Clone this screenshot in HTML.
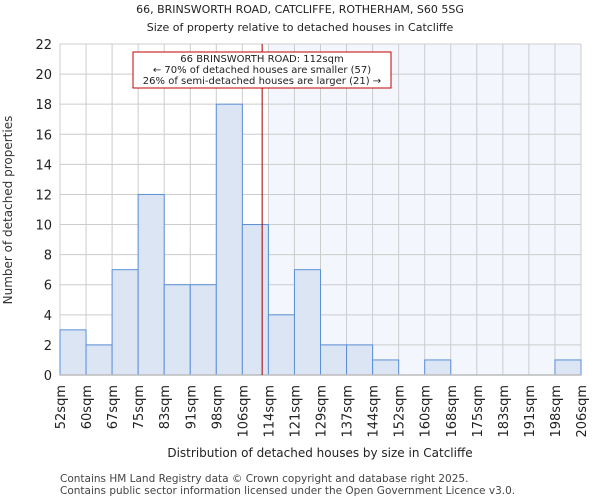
<!DOCTYPE html>
<html><head><meta charset="utf-8"><style>
body{margin:0;background:#fff;font-family:"DejaVu Sans","Liberation Sans",sans-serif}
</style></head><body>
<svg width="600" height="500" xmlns="http://www.w3.org/2000/svg" font-family="DejaVu Sans, Liberation Sans, sans-serif">
<text x="300" y="13" text-anchor="middle" font-size="11" fill="#222">66, BRINSWORTH ROAD, CATCLIFFE, ROTHERHAM, S60 5SG</text>
<text x="300" y="31" text-anchor="middle" font-size="11" fill="#222">Size of property relative to detached houses in Catcliffe</text>
<g id="plot"></g>
<text transform="translate(12,210) rotate(-90)" text-anchor="middle" font-size="12" fill="#333">Number of detached properties</text>
<text x="320" y="457" text-anchor="middle" font-size="12" fill="#222">Distribution of detached houses by size in Catcliffe</text>
<text x="60" y="482" font-size="10.5" fill="#444">Contains HM Land Registry data © Crown copyright and database right 2025.</text>
<text x="60" y="494" font-size="10.5" fill="#444">Contains public sector information licensed under the Open Government Licence v3.0.</text>
</svg>
<script>
const tickLabels=["52sqm","60sqm","67sqm","75sqm","83sqm","91sqm","98sqm","106sqm","114sqm","121sqm","129sqm","137sqm","144sqm","152sqm","160sqm","168sqm","175sqm","183sqm","191sqm","198sqm","206sqm"];
const counts=[3,2,7,12,6,6,18,10,4,7,2,2,1,0,1,0,0,0,0,1];
const yTicks=[0,2,4,6,8,10,12,14,16,18,20,22];
const markerBin=7.76;
const highlightFromBin=8;
const L=60,R=581,T=44,B=375,YMAX=22;
const n=counts.length,bw=(R-L)/n;
const xs=i=>L+i*bw, ys=v=>B-(v/YMAX)*(B-T);
const ns="http://www.w3.org/2000/svg",g=document.getElementById('plot');
function mk(t,a){const e=document.createElementNS(ns,t);for(const k in a)e.setAttribute(k,a[k]);g.appendChild(e);return e;}
let e=mk('rect',{x:xs(highlightFromBin),y:T,width:R-xs(highlightFromBin),height:B-T,fill:'#f3f6fd'});


yTicks.forEach(v=>{
 let l=mk('line',{x1:L,x2:R,y1:ys(v),y2:ys(v),stroke:'#ccc','stroke-width':1});
 
 
 let t=mk('text',{x:L-8,y:ys(v)+5,'text-anchor':'end','font-size':13,fill:'#222'});t.textContent=v;
 
 
});
tickLabels.forEach((s,i)=>{
 let l=mk('line',{x1:xs(i),x2:xs(i),y1:T,y2:B,stroke:'#ccc','stroke-width':1});
 
 
 let t=mk('text',{transform:`translate(${xs(i)+5},385) rotate(-90)`,'text-anchor':'end','font-size':13,fill:'#222'});t.textContent=s;
 
 
});
counts.forEach((v,i)=>{if(!v)return;
 let r=mk('rect',{x:xs(i),y:ys(v),width:bw,height:B-ys(v),fill:'#dbe5f4',stroke:'#5b8fd6','stroke-width':1});
 
 
});
let ax=mk('line',{x1:L,x2:R,y1:B,y2:B,stroke:'#bbb','stroke-width':1.5});


let m=mk('line',{x1:xs(markerBin),x2:xs(markerBin),y1:T,y2:B,stroke:'#a00000','stroke-width':1});


let bx=mk('rect',{x:133,y:52,width:258,height:36,fill:'#fff',stroke:'#c00000','stroke-width':1});


["66 BRINSWORTH ROAD: 112sqm","← 70% of detached houses are smaller (57)","26% of semi-detached houses are larger (21) →"].forEach((s,i)=>{
 let t=mk('text',{x:262,y:62+i*11,'text-anchor':'middle','font-size':10,fill:'#222'});t.textContent=s;
 
 
});
</script>
</body></html>
